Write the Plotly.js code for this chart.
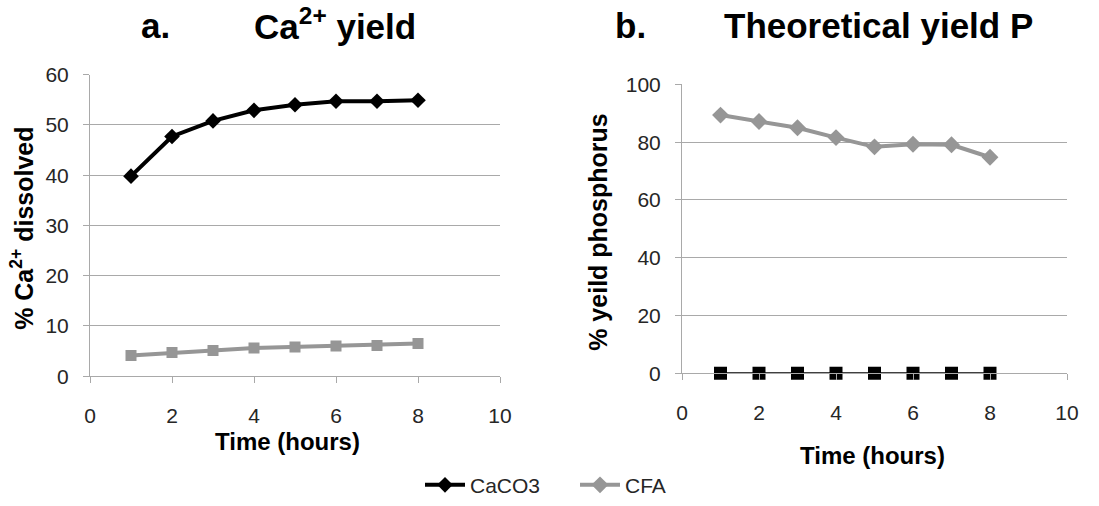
<!DOCTYPE html>
<html>
<head>
<meta charset="utf-8">
<script src="https://cdn.plot.ly/plotly-3.0.1.min.js"></script>
<style>html,body{margin:0;padding:0;background:#fff;}#chart{width:1099px;height:506px;}</style>
</head>
<body>
<div id="chart"></div>
<script>
// Data
const hours = [1, 2, 3, 4, 5, 6, 7, 8];
const caDissolvedCaCO3 = [39.8, 47.7, 50.8, 52.9, 54.0, 54.7, 54.7, 54.9];
const caDissolvedCFA = [4.1, 4.7, 5.1, 5.6, 5.8, 6.0, 6.1, 6.5];
const pYieldCFA = [89.4, 87.2, 85.0, 81.6, 78.4, 79.3, 79.1, 74.8];
const pYieldCaCO3 = [0, 0, 0, 0, 0, 0, 0, 0];
const xTicks = [0, 2, 4, 6, 8, 10];
const yTicksA = [0, 10, 20, 30, 40, 50, 60];
const yTicksB = [0, 20, 40, 60, 80, 100];
const seriesNames = ['CaCO3', 'CFA'];

const W = 1099, H = 506;
const px = v => v / W;
const py = v => 1 - v / H;
const FONT = 'Liberation Sans, Arial, sans-serif';
const BLACK = '#000000';
const GRAY = '#969696';
const GRID = '#a9a9a9';

const traces = [
  {x: hours, y: caDissolvedCaCO3, xaxis: 'x', yaxis: 'y', mode: 'lines+markers', name: seriesNames[0],
   line: {color: BLACK, width: 4}, marker: {symbol: 'diamond', size: 12, color: BLACK}, showlegend: true, legendrank: 1},
  {x: hours, y: caDissolvedCFA, xaxis: 'x', yaxis: 'y', mode: 'lines+markers', name: seriesNames[1],
   line: {color: GRAY, width: 4}, marker: {symbol: 'square', size: 11, color: GRAY}, showlegend: false},
  {x: hours, y: pYieldCFA, xaxis: 'x2', yaxis: 'y2', mode: 'lines+markers', name: seriesNames[1],
   line: {color: GRAY, width: 4}, marker: {symbol: 'diamond', size: 13, color: GRAY}, showlegend: true, legendrank: 2},
  {x: hours, y: pYieldCaCO3, xaxis: 'x2', yaxis: 'y2', mode: 'lines+markers', name: seriesNames[0],
   line: {color: BLACK, width: 2}, marker: {symbol: 'square', size: 13, color: BLACK}, showlegend: false, cliponaxis: false}
];

const xCommon = {
  range: [0, 10], tickvals: xTicks, ticks: 'outside', ticklen: 6, tickcolor: GRID,
  showline: true, linecolor: GRID, linewidth: 1, showgrid: false, zeroline: false,
  tickfont: {family: FONT, size: 21, color: '#262626'}, ticklabelstandoff: 15, fixedrange: true
};
const yCommon = {
  ticks: 'outside', ticklen: 6, tickcolor: GRID, showline: true, linecolor: GRID, linewidth: 1,
  showgrid: true, gridcolor: GRID, gridwidth: 1, zeroline: false,
  tickfont: {family: FONT, size: 21, color: '#262626'}, ticklabelstandoff: 10, fixedrange: true
};

function ann(text, x, y, size, angle) {
  return {text: text, x: px(x), y: py(y), xref: 'paper', yref: 'paper', xanchor: 'center', yanchor: 'middle',
          showarrow: false, textangle: angle || 0, font: {family: FONT, size: size, color: '#000'}};
}

const layout = {
  width: W, height: H, margin: {l: 0, r: 0, t: 0, b: 0}, paper_bgcolor: '#fff', plot_bgcolor: '#fff',
  font: {family: FONT},
  xaxis: Object.assign({}, xCommon, {domain: [px(90), px(500)], anchor: 'y'}),
  yaxis: Object.assign({}, yCommon, {domain: [py(383), py(76)], range: [0, 60], tickvals: yTicksA, anchor: 'x'}),
  xaxis2: Object.assign({}, xCommon, {domain: [px(682), px(1067)], anchor: 'y2'}),
  yaxis2: Object.assign({}, yCommon, {domain: [py(380), py(86)], range: [0, 100], tickvals: yTicksB, anchor: 'x2'}),
  showlegend: true,
  legend: {orientation: 'h', x: px(420), xanchor: 'left', y: py(494), yanchor: 'middle', entrywidth: 100, entrywidthmode: 'pixels',
           font: {family: FONT, size: 21, color: '#262626'}, itemwidth: 40, traceorder: 'normal', bgcolor: 'rgba(0,0,0,0)'},
  annotations: [
    ann('<b>a.</b>', 155, 26, 35),
    ann('<b>Ca<sup>2+</sup> yield</b>', 335, 24, 35),
    ann('<b>b.</b>', 630, 26, 35),
    ann('<b>Theoretical yield P</b>', 878, 26, 35),
    ann('<b>Time (hours)</b>', 287, 449, 24),
    ann('<b>Time (hours)</b>', 872, 464, 24),
    ann('<b>% Ca<sup>2+</sup> dissolved</b>', 22, 233, 25, -90),
    ann('<b>% yeild phosphorus</b>', 598, 236, 25, -90)
  ]
};

Plotly.newPlot('chart', traces, layout, {displayModeBar: false, staticPlot: true});
</script>
</body>
</html>
